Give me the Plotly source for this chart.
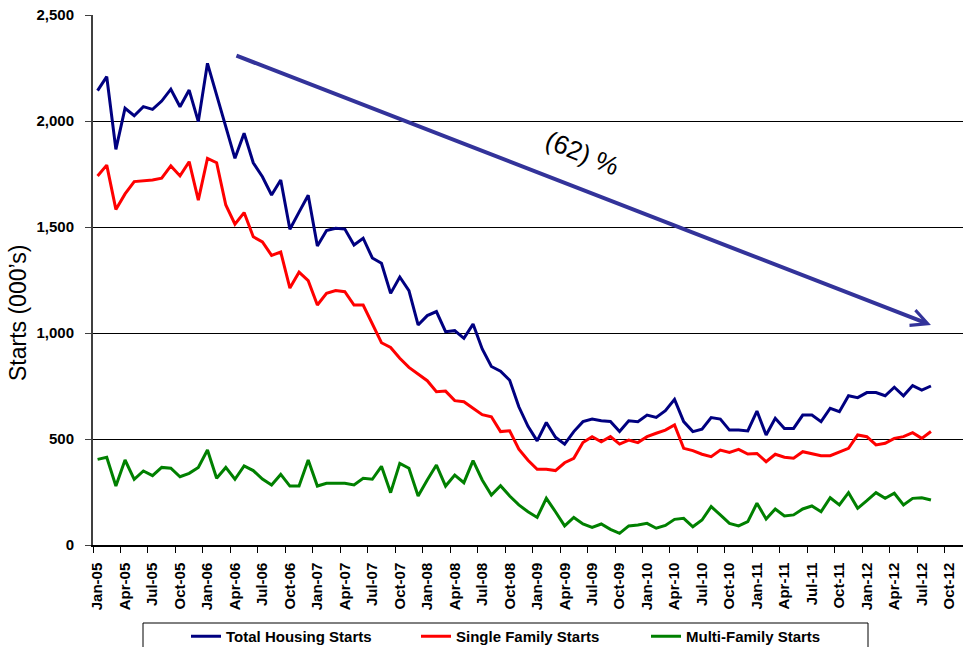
import plotly.graph_objects as go

# Monthly housing starts, seasonally adjusted annual rate (thousands), Jan-05 .. Aug-12
total_starts = [
    2143, 2209, 1866, 2060, 2025, 2068, 2055, 2094, 2150, 2067, 2146, 1997,
    2272, 2120, 1970, 1824, 1942, 1803, 1737, 1651, 1722, 1489, 1570, 1650,
    1410, 1483, 1494, 1490, 1415, 1447, 1354, 1329, 1187, 1264, 1200, 1038,
    1082, 1101, 1006, 1011, 975, 1042, 925, 842, 820, 777, 652, 560,
    491, 578, 508, 476, 535, 582, 594, 586, 583, 535, 586, 582,
    613, 602, 634, 687, 582, 535, 546, 601, 594, 542, 542, 538,
    632, 519, 598, 550, 550, 613, 613, 582, 645, 629, 704, 695,
    719, 719, 704, 744, 704, 752, 731, 750,
]
single_family = [
    1741, 1792, 1583, 1656, 1714, 1717, 1722, 1730, 1788, 1741, 1808, 1627,
    1824, 1803, 1604, 1513, 1568, 1454, 1430, 1366, 1382, 1212, 1287, 1247,
    1132, 1187, 1200, 1195, 1132, 1132, 1046, 954, 932, 881, 838, 807,
    775, 723, 726, 681, 676, 645, 615, 605, 535, 539, 452, 400,
    357, 357, 351, 388, 409, 483, 511, 487, 511, 476, 495, 483,
    511, 527, 542, 566, 456, 445, 428, 417, 448, 437, 451, 429,
    432, 393, 428, 414, 409, 440, 429, 421, 421, 437, 456, 519,
    511, 472, 480, 503, 511, 530, 503, 535,
]
multi_family = [
    404, 414, 278, 401, 310, 349, 327, 366, 362, 322, 338, 366,
    448, 315, 366, 310, 373, 351, 311, 283, 333, 278, 278, 401,
    278, 291, 291, 291, 283, 315, 310, 371, 247, 385, 362, 231,
    307, 377, 278, 330, 294, 398, 307, 236, 280, 231, 189, 157,
    130, 220, 157, 90, 130, 99, 83, 99, 74, 55, 90, 94,
    102, 79, 92, 121, 126, 86, 118, 181, 142, 102, 90, 110,
    197, 123, 170, 137, 142, 170, 184, 157, 223, 189, 247, 173,
    209, 247, 220, 244, 189, 220, 223, 212,
]

tick_labels = [
    "Jan-05", "Apr-05", "Jul-05", "Oct-05", "Jan-06", "Apr-06", "Jul-06", "Oct-06",
    "Jan-07", "Apr-07", "Jul-07", "Oct-07", "Jan-08", "Apr-08", "Jul-08", "Oct-08",
    "Jan-09", "Apr-09", "Jul-09", "Oct-09", "Jan-10", "Apr-10", "Jul-10", "Oct-10",
    "Jan-11", "Apr-11", "Jul-11", "Oct-11", "Jan-12", "Apr-12", "Jul-12", "Oct-12",
]

# Trend arrow endpoints (month index, thousands) and its label
trend_start = (15.0, 2311)
trend_end = (91.0, 1038)
trend_label = "(62) %"
trend_label_pos = (52.9, 1849)

months = list(range(len(total_starts)))
tick_positions = [3 * k for k in range(len(tick_labels))]

FONT = "Liberation Sans, Arial, sans-serif"

# Plot area geometry in pixels (left edge, bottom edge, width, height)
PLOT_L, PLOT_B, PLOT_W, PLOT_H = 93, 545, 870, 530


def px_to_paper_x(px):
    return (px - PLOT_L) / PLOT_W


def px_to_paper_y(py):
    return (PLOT_B - py) / PLOT_H


fig = go.Figure()
series = [
    ("Total Housing Starts", total_starts, "#000080"),
    ("Single Family Starts", single_family, "#FF0000"),
    ("Multi-Family Starts", multi_family, "#008000"),
]
for name, values, color in series:
    fig.add_trace(go.Scatter(
        x=months, y=values, name=name, mode="lines",
        line=dict(color=color, width=3),
        hoverinfo="skip",
    ))

fig.add_annotation(
    x=trend_end[0], y=trend_end[1], ax=trend_start[0], ay=trend_start[1],
    xref="x", yref="y", axref="x", ayref="y",
    showarrow=True, arrowhead=5, arrowsize=0.8, arrowwidth=4,
    arrowcolor="#33339A", text="",
)
fig.add_annotation(
    x=trend_label_pos[0], y=trend_label_pos[1], xref="x", yref="y",
    text=trend_label, showarrow=False, textangle=22,
    font=dict(family=FONT, size=26, color="black"),
)
fig.add_annotation(
    x=px_to_paper_x(18), y=px_to_paper_y(313), xref="paper", yref="paper",
    text="Starts (000\u2019s)", showarrow=False, textangle=-90,
    xanchor="center", yanchor="middle",
    font=dict(family=FONT, size=23, color="black"),
)

# Frame around the legend entries
fig.add_shape(
    type="rect", xref="paper", yref="paper",
    x0=px_to_paper_x(143), x1=px_to_paper_x(868),
    y0=px_to_paper_y(623), y1=px_to_paper_y(700),
    line=dict(color="black", width=1), fillcolor="rgba(0,0,0,0)",
)

fig.update_layout(
    width=963, height=647,
    margin=dict(l=PLOT_L, r=963 - PLOT_L - PLOT_W, t=PLOT_B - PLOT_H,
                b=647 - PLOT_B, autoexpand=False),
    paper_bgcolor="white", plot_bgcolor="white",
    font=dict(family=FONT, color="black"),
    showlegend=True,
    legend=dict(
        orientation="h", x=px_to_paper_x(186), xanchor="left",
        y=px_to_paper_y(620), yanchor="top",
        entrywidth=185, entrywidthmode="pixels",
        font=dict(family=FONT, size=15, color="black", weight="bold"),
        bgcolor="rgba(0,0,0,0)", borderwidth=0,
    ),
    xaxis=dict(
        range=[-0.5, 94.5], tickmode="array",
        tickvals=tick_positions, ticktext=tick_labels,
        tickangle=-90, ticks="", ticklabelstandoff=10,
        tickfont=dict(family=FONT, size=15, color="black", weight="bold"),
        showgrid=False, zeroline=False, automargin=False,
        showline=True, linecolor="black", linewidth=1.5,
        minor=dict(tick0=-0.5, dtick=3, ticks="outside", ticklen=6,
                   tickcolor="black", tickwidth=1, showgrid=False),
    ),
    yaxis=dict(
        range=[0, 2500], dtick=500, tickformat=",d",
        ticks="outside", ticklen=6, tickcolor="#404040", tickwidth=1,
        ticklabelstandoff=8, automargin=False,
        tickfont=dict(family=FONT, size=15, color="black", weight="bold"),
        showgrid=True, gridcolor="black", gridwidth=1,
        zeroline=False, showline=True, linecolor="#404040", linewidth=2,
    ),
)

fig.write_html("out.html")
